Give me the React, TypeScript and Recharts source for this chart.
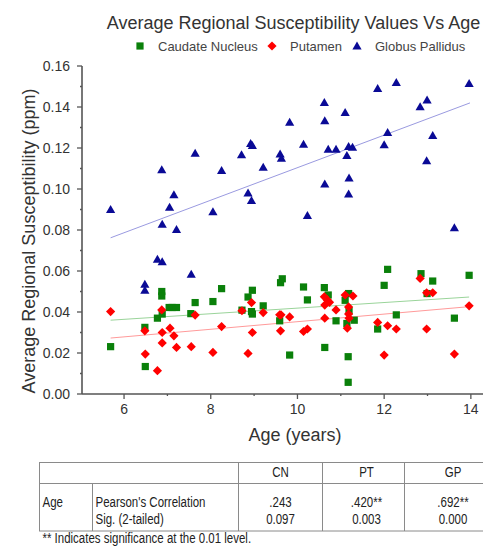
import React from 'react';
import { ScatterChart, Scatter, XAxis, YAxis, ReferenceLine } from 'recharts';

// ---------- data ----------
const chartTitle = 'Average Regional Susceptibility Values Vs Age';
const xAxisTitle = 'Age (years)';
const yAxisTitle = 'Average Regional Susceptibility (ppm)';

const seriesNames = ['Caudate Nucleus', 'Putamen', 'Globus Pallidus'];
const seriesColors = ['#0a800a', '#ff0000', '#0a0a96'];
const fitColors = ['#9ad49a', '#ff9a9a', '#9a9ae0'];

// [age, susceptibility]
const caudateNucleus: [number, number][] = [
  [5.69, 0.0231], [6.48, 0.0325], [6.49, 0.0134], [6.77, 0.037], [6.87, 0.050], [6.87, 0.0478],
  [6.88, 0.039], [7.04, 0.0422], [7.11, 0.0422], [7.21, 0.0422], [7.54, 0.0392], [7.64, 0.0446],
  [8.05, 0.0451], [8.25, 0.0514], [8.72, 0.0409], [8.86, 0.0473], [8.96, 0.0506], [8.94, 0.0402],
  [8.96, 0.039], [9.21, 0.043], [9.59, 0.0357], [9.61, 0.0543], [9.65, 0.0562], [9.82, 0.019],
  [10.14, 0.0522], [10.23, 0.0459], [10.62, 0.0519], [10.63, 0.0227], [10.71, 0.0483], [10.89, 0.0357],
  [11.1, 0.0457], [11.18, 0.049], [11.14, 0.0344], [11.31, 0.036], [11.17, 0.0182], [11.17, 0.0057],
  [11.19, 0.0406], [11.85, 0.0317], [12.0, 0.053], [12.08, 0.0608], [12.28, 0.0386], [12.85, 0.0587],
  [12.99, 0.049], [13.12, 0.0551], [13.62, 0.037], [13.96, 0.0579],
];

const putamen: [number, number][] = [
  [5.69, 0.0402], [6.48, 0.0308], [6.49, 0.0195], [6.77, 0.0114], [6.87, 0.041], [6.88, 0.030],
  [6.88, 0.0249], [7.06, 0.0321], [7.15, 0.0284], [7.21, 0.0227], [7.55, 0.0231], [7.64, 0.0385],
  [8.05, 0.0203], [8.25, 0.0329], [8.72, 0.0406], [8.86, 0.0198], [8.94, 0.0446], [8.96, 0.030],
  [9.21, 0.0397], [9.59, 0.0386], [9.62, 0.0386], [9.61, 0.0308], [9.82, 0.0376], [10.14, 0.0305],
  [10.23, 0.0317], [10.62, 0.0474], [10.69, 0.0459], [10.63, 0.0434], [10.74, 0.0447], [10.63, 0.037],
  [10.89, 0.041], [11.1, 0.0483], [11.28, 0.0478], [11.18, 0.0425], [11.18, 0.039], [11.19, 0.037],
  [11.15, 0.0321], [11.85, 0.0349], [12.0, 0.019], [12.08, 0.0333], [12.28, 0.0317], [12.83, 0.0564],
  [12.98, 0.0494], [13.12, 0.0494], [12.98, 0.0317], [13.62, 0.0195], [13.96, 0.043],
];

const globusPallidus: [number, number][] = [
  [5.69, 0.090], [6.48, 0.0535], [6.48, 0.0506], [6.77, 0.0657], [6.88, 0.0645], [6.87, 0.1094],
  [6.88, 0.0827], [7.05, 0.0911], [7.15, 0.0972], [7.21, 0.0802], [7.55, 0.0584], [7.64, 0.1174],
  [8.05, 0.0888], [8.25, 0.109], [8.71, 0.1167], [8.86, 0.098], [8.94, 0.0943], [8.92, 0.1222],
  [8.96, 0.1212], [9.21, 0.1106], [9.6, 0.117], [9.63, 0.115], [9.82, 0.1325], [10.14, 0.1218],
  [10.23, 0.087], [10.62, 0.1422], [10.63, 0.1333], [10.63, 0.1024], [10.71, 0.1194], [10.89, 0.1194],
  [11.1, 0.1373], [11.18, 0.1207], [11.27, 0.1203], [11.14, 0.1163], [11.19, 0.1053], [11.18, 0.0975],
  [11.85, 0.149], [12.08, 0.1275], [12.0, 0.1215], [12.28, 0.1519], [12.83, 0.1401], [12.99, 0.1434],
  [13.12, 0.126], [12.98, 0.1137], [13.62, 0.081], [13.96, 0.1514],
];

// linear fit end points [age, value]
const caudateFit: [number, number][] = [[5.69, 0.036], [13.96, 0.0473]];
const putamenFit: [number, number][] = [[5.69, 0.0273], [13.96, 0.0426]];
const pallidusFit: [number, number][] = [[5.69, 0.0762], [13.98, 0.142]];

const xMajorTicks = [6, 8, 10, 12, 14];
const xMinorTicks = [7, 9, 11, 13];
const yTickLabels = ['0.00', '0.02', '0.04', '0.06', '0.08', '0.10', '0.12', '0.14', '0.16'];
const yMinorTicks = [0.01, 0.03, 0.05, 0.07, 0.09, 0.11, 0.13, 0.15];

// table
const tableColumns = ['CN', 'PT', 'GP'];
const tableRowLabel = 'Age';
const tableMeasures = ["Pearson's Correlation", 'Sig. (2-tailed)'];
const pearsonValues = ['.243', '.420**', '.692**'];
const sigValues = ['0.097', '0.003', '0.000'];
const footnote = '** Indicates significance at the 0.01 level.';

// ---------- helpers ----------
const toPts = (arr: [number, number][]) => arr.map(([x, y]) => ({ x, y }));
const yMajorValues = yTickLabels.map((s) => parseFloat(s));
const yTicks = [...yMajorValues, ...yMinorTicks].sort((a, b) => a - b);
const xTicks = [...xMajorTicks, ...xMinorTicks].sort((a, b) => a - b);

const AXIS_COLOR = '#555';
const TEXT_COLOR = '#333';
const FONT = "'Liberation Sans', Arial, sans-serif";

const SquareShape = (p: any) => (
  <rect x={p.cx - 3.6} y={p.cy - 3.6} width={7.2} height={7.2} fill={seriesColors[0]} />
);
const DiamondShape = (p: any) => (
  <path
    d={`M${p.cx},${p.cy - 4.6}L${p.cx + 4.6},${p.cy}L${p.cx},${p.cy + 4.6}L${p.cx - 4.6},${p.cy}Z`}
    fill={seriesColors[1]}
  />
);
const TriangleShape = (p: any) => (
  <path
    d={`M${p.cx},${p.cy - 4.6}L${p.cx + 4.6},${p.cy + 3.4}L${p.cx - 4.6},${p.cy + 3.4}Z`}
    fill={seriesColors[2]}
  />
);

const Y_TICK_SIZE = 5;
const Y_TICK_MARGIN = 7;
const YTick = (props: any) => {
  const { x, y, payload } = props;
  const v = payload.value;
  const axisX = x + Y_TICK_SIZE + Y_TICK_MARGIN;
  const idx = yMajorValues.findIndex((m) => Math.abs(m - v) < 1e-9);
  const major = idx >= 0;
  return (
    <g>
      <line x1={axisX - (major ? 5 : 2)} x2={axisX} y1={y} y2={y} stroke={AXIS_COLOR} strokeWidth={1.3} />
      {major && (
        <text x={axisX - 12} y={y} dy="0.36em" textAnchor="end" fontSize={14} fill={TEXT_COLOR} fontFamily={FONT}>
          {yTickLabels[idx]}
        </text>
      )}
    </g>
  );
};

const X_TICK_SIZE = 5;
const X_TICK_MARGIN = 5;
const XTick = (props: any) => {
  const { x, y, payload } = props;
  const v = payload.value;
  const axisY = y - X_TICK_SIZE - X_TICK_MARGIN;
  const major = xMajorTicks.includes(v);
  return (
    <g>
      <line x1={x} x2={x} y1={axisY} y2={axisY + (major ? 5 : 2)} stroke={AXIS_COLOR} strokeWidth={1.3} />
      {major && (
        <text x={x} y={axisY + 10} dy="0.71em" textAnchor="middle" fontSize={14} fill={TEXT_COLOR} fontFamily={FONT}>
          {String(v)}
        </text>
      )}
    </g>
  );
};

const legendShapes = [
  (cx: number, cy: number) => <rect x={cx - 3.6} y={cy - 3.6} width={7.2} height={7.2} fill={seriesColors[0]} />,
  (cx: number, cy: number) => (
    <path d={`M${cx},${cy - 4.6}L${cx + 4.6},${cy}L${cx},${cy + 4.6}L${cx - 4.6},${cy}Z`} fill={seriesColors[1]} />
  ),
  (cx: number, cy: number) => (
    <path d={`M${cx},${cy - 4.6}L${cx + 4.6},${cy + 3.4}L${cx - 4.6},${cy + 3.4}Z`} fill={seriesColors[2]} />
  ),
];
const legendIconX = [140, 272, 357];

// narrow (Arial-Narrow-like) text via horizontal scaling
const NT = ({ x, y, anchor, children }: { x: number; y: number; anchor?: string; children: any }) => (
  <text
    transform={`translate(${x},${y}) scale(0.82,1)`}
    textAnchor={anchor || 'start'}
    fontSize={14}
    fontFamily={FONT}
    fill="#222"
  >
    {children}
  </text>
);

export default function App() {
  const colX = [39.5, 92.5, 238.5, 322.5, 404.5, 490];
  const rowY = [462.5, 483.5, 531];
  const colCenters = [280.5, 366.5, 453];
  return (
    <div
      style={{
        position: 'absolute',
        left: 0,
        top: 0,
        width: 483,
        height: 551,
        overflow: 'hidden',
        background: '#fff',
        fontFamily: FONT,
      }}
    >
      <div style={{ position: 'absolute', left: 0, top: 0 }}>
        <ScatterChart width={483} height={450} margin={{ top: 66, right: 0, bottom: 26, left: 0 }}>
          <XAxis
            type="number"
            dataKey="x"
            height={30}
            domain={[5.03, 14.28]}
            ticks={xTicks}
            interval={0}
            allowDataOverflow
            tickSize={X_TICK_SIZE}
            tickMargin={X_TICK_MARGIN}
            tickLine={false}
            tick={<XTick />}
            axisLine={{ stroke: AXIS_COLOR, strokeWidth: 1.6 }}
            label={{
              content: () => (
                <text x={295} y={441} textAnchor="middle" fontSize={18} fill={TEXT_COLOR} fontFamily={FONT}>
                  {xAxisTitle}
                </text>
              ),
            }}
          />
          <YAxis
            type="number"
            dataKey="y"
            width={82}
            domain={[0, 0.16]}
            ticks={yTicks}
            interval={0}
            allowDataOverflow
            tickSize={Y_TICK_SIZE}
            tickMargin={Y_TICK_MARGIN}
            tickLine={false}
            tick={<YTick />}
            axisLine={{ stroke: AXIS_COLOR, strokeWidth: 1.6 }}
            label={{
              content: () => (
                <text
                  x={35}
                  y={241}
                  transform="rotate(-90 35 241)"
                  textAnchor="middle"
                  fontSize={18}
                  fill={TEXT_COLOR}
                  fontFamily={FONT}
                >
                  {yAxisTitle}
                </text>
              ),
            }}
          />
          <ReferenceLine segment={toPts(caudateFit)} stroke={fitColors[0]} strokeWidth={1} ifOverflow="visible" />
          <ReferenceLine segment={toPts(putamenFit)} stroke={fitColors[1]} strokeWidth={1} ifOverflow="visible" />
          <ReferenceLine segment={toPts(pallidusFit)} stroke={fitColors[2]} strokeWidth={1} ifOverflow="visible" />
          <Scatter name={seriesNames[0]} data={toPts(caudateNucleus)} shape={SquareShape} isAnimationActive={false} />
          <Scatter name={seriesNames[1]} data={toPts(putamen)} shape={DiamondShape} isAnimationActive={false} />
          <Scatter name={seriesNames[2]} data={toPts(globusPallidus)} shape={TriangleShape} isAnimationActive={false} />
        </ScatterChart>
      </div>

      {/* title + legend */}
      <svg width={483} height={60} style={{ position: 'absolute', left: 0, top: 0 }}>
        <text x={293.5} y={29} textAnchor="middle" fontSize={18} fill={TEXT_COLOR} fontFamily={FONT}>
          {chartTitle}
        </text>
        {seriesNames.map((name, i) => (
          <g key={name}>
            {legendShapes[i](legendIconX[i], 46)}
            <text x={legendIconX[i] + 18} y={50.5} fontSize={13} fill="#444" fontFamily={FONT}>
              {name}
            </text>
          </g>
        ))}
      </svg>

      {/* correlation table */}
      <svg width={483} height={100} style={{ position: 'absolute', left: 0, top: 451 }} viewBox="0 451 483 100">
        <g stroke="#8a8a8a" strokeWidth={1} fill="none">
          <rect x={colX[0]} y={rowY[0]} width={colX[5] - colX[0]} height={rowY[2] - rowY[0]} />
          <line x1={colX[0]} x2={colX[5]} y1={rowY[1]} y2={rowY[1]} />
          <line x1={colX[1]} x2={colX[1]} y1={rowY[1]} y2={rowY[2]} />
          <line x1={colX[2]} x2={colX[2]} y1={rowY[0]} y2={rowY[2]} />
          <line x1={colX[3]} x2={colX[3]} y1={rowY[0]} y2={rowY[2]} />
          <line x1={colX[4]} x2={colX[4]} y1={rowY[0]} y2={rowY[2]} />
        </g>
        {tableColumns.map((c, i) => (
          <NT key={c} x={colCenters[i]} y={477} anchor="middle">
            {c}
          </NT>
        ))}
        <NT x={42.5} y={506.5}>{tableRowLabel}</NT>
        <NT x={95.5} y={506.5}>{tableMeasures[0]}</NT>
        <NT x={95.5} y={524}>{tableMeasures[1]}</NT>
        {pearsonValues.map((v, i) => (
          <NT key={'p' + i} x={colCenters[i]} y={506.5} anchor="middle">
            {v}
          </NT>
        ))}
        {sigValues.map((v, i) => (
          <NT key={'s' + i} x={colCenters[i]} y={524} anchor="middle">
            {v}
          </NT>
        ))}
        <NT x={42.5} y={543}>{footnote}</NT>
      </svg>
    </div>
  );
}
